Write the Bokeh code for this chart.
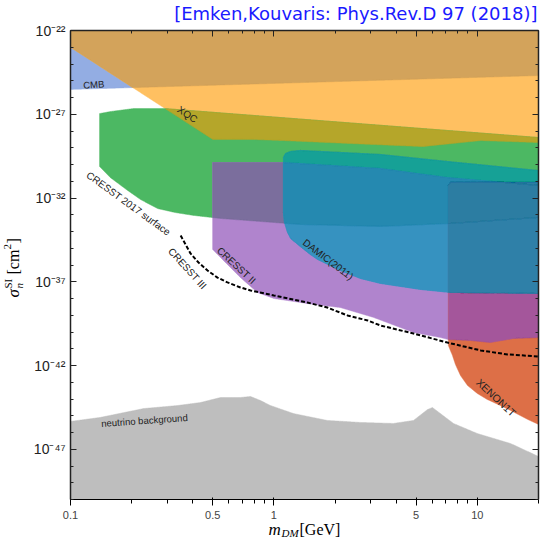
import numpy as np
from bokeh.plotting import figure
from bokeh.models import FixedTicker, CustomJSTickFormatter, LogAxis, Label, Range1d
from bokeh.embed import file_html
from bokeh.resources import INLINE

# ---------------- data: mass in GeV, log10 of cross section in cm^2 ----------------
TOP, BOTTOM = -22.0, -50.0
M_MIN, M_MAX = 0.1, 20.0

cmb_m = [0.1, 20.0]
cmb_lower = [-25.52, -24.69]

xqc_m = [0.1, 0.5, 0.77, 1.11, 2.4, 5.4, 10.4, 20.0]
xqc_lower = [-23.0, -28.5, -28.5, -28.57, -28.75, -28.93, -28.57, -28.69]

surf_m_top = [0.139, 0.157, 0.204, 0.29, 20.0]
surf_top = [-26.96, -26.84, -26.66, -26.66, -28.39]
surf_m_bot = [0.139, 0.157, 0.191, 0.221, 0.268, 0.328, 0.403, 0.546, 0.859, 1.35, 3.34, 7.38, 20.0]
surf_bot = [-30.12, -30.78, -31.55, -32.09, -32.63, -32.87, -33.04, -33.22, -33.40, -33.58, -33.70, -33.52, -33.16]

c2_m_top = [0.5, 1.11, 3.34, 7.13, 20.0]
c2_top = [-29.88, -29.88, -30.24, -30.78, -31.25]
c2_m_bot = [0.5, 0.565, 0.685, 0.83, 1.0, 1.46, 2.12, 3.09, 4.86, 6.59, 7.21, 9.27, 11.6, 15.1, 20.0]
c2_bot = [-35.07, -35.73, -36.75, -37.64, -38.00, -38.30, -38.54, -39.13, -40.03, -40.33, -40.45, -40.51, -40.63, -40.39, -40.33]

damic_m_top = [1.114, 1.14, 1.21, 1.35, 3.34, 7.13, 20.0]
damic_top = [-29.58, -29.34, -29.22, -29.16, -29.40, -29.82, -30.36]
damic_m_bot = [1.114, 1.127, 1.167, 1.21, 1.35, 1.51, 1.64, 2.12, 2.67, 3.34, 5.26, 7.38, 20.0]
damic_bot = [-32.87, -33.46, -34.06, -34.42, -34.90, -35.37, -35.67, -36.33, -36.81, -37.10, -37.46, -37.64, -37.70]

x1t_m_top = [7.21, 7.38, 20.0]
x1t_top = [-31.25, -31.07, -31.07]
x1t_m_bot = [7.21, 7.55, 7.81, 8.27, 8.95, 10.0, 11.2, 13.0, 14.6, 17.7, 20.0]
x1t_bot = [-40.81, -41.40, -41.94, -42.60, -43.19, -43.67, -44.03, -44.39, -44.69, -45.22, -45.52]

nu_m = [0.1, 0.14, 0.229, 0.336, 0.436, 0.546, 0.685, 0.768, 0.859, 0.962, 1.25, 1.83,
        2.67, 3.87, 4.86, 5.69, 6.02, 6.59, 7.64, 10.0, 14.6, 20.0]
nu_top = [-45.34, -45.10, -44.57, -44.39, -44.21, -43.91, -43.91, -43.85, -44.09, -44.39, -44.87, -45.28,
          -45.40, -45.46, -45.28, -44.63, -44.51, -44.87, -45.46, -46.06, -46.66, -47.43]

c3_m = [0.348, 0.368, 0.389, 0.426, 0.472, 0.528, 0.591, 0.685, 0.768, 1.0, 1.46, 1.83,
        2.30, 2.89, 3.34, 4.86, 7.13, 10.4, 14.1, 20.0]
c3_sigma = [-34.24, -34.78, -35.31, -35.85, -36.33, -36.75, -37.04, -37.34, -37.52, -37.82, -38.24, -38.54,
            -39.01, -39.31, -39.61, -40.09, -40.63, -41.10, -41.34, -41.46]

label_text = ["CMB", "XQC", "CRESST 2017 surface", "CRESST III", "CRESST II", "DAMIC(2011)",
              "XENON1T", "neutrino background"]
label_m = [0.130, 0.376, 0.193, 0.376, 0.655, 1.85, 12.4, 0.231]
label_logsig = [-25.22, -27.01, -32.33, -36.21, -36.03, -35.67, -43.91, -45.28]
label_angle_deg = [4, -34, -36, -48, -43, -37, -43, 4]
label_size = ["9.5px", "10px", "10px", "10px", "10px", "10px", "10.5px", "9.5px"]

x_major = [0.1, 0.5, 1, 5, 10]
x_minor = [0.2, 0.3, 0.4, 0.6, 0.7, 0.8, 0.9, 2, 3, 4, 6, 7, 8, 9, 20]
y_major = [1e-22, 1e-27, 1e-32, 1e-37, 1e-42, 1e-47]
y_minor = [10.0 ** (-k) for k in range(22, 51)]

REG = {
    "CMB": (cmb_m, [TOP, TOP], cmb_m, cmb_lower),
    "XQC": ([0.1, 20.0], [TOP, TOP], xqc_m, xqc_lower),
    "surf": (surf_m_top, surf_top, surf_m_bot, surf_bot),
    "c2": (c2_m_top, c2_top, c2_m_bot, c2_bot),
    "damic": (damic_m_top, damic_top, damic_m_bot, damic_bot),
    "x1t": (x1t_m_top, x1t_top, x1t_m_bot, x1t_bot),
    "nu": (nu_m, nu_top, [0.1, 20.0], [BOTTOM, BOTTOM]),
}

PAINT = [
    (("nu",), "#BEBEBE"),
    (("CMB",), "#93ADE3"),
    (("XQC",), "#FFC061"),
    (("surf",), "#4CB863"),
    (("c2",), "#B084CD"),
    (("damic",), "#3692C0"),
    (("x1t",), "#DD6F47"),
    (("CMB", "XQC"), "#D3A35B"),
    (("XQC", "surf"), "#B5A62A"),
    (("surf", "c2"), "#7B6E9D"),
    (("surf", "damic"), "#16A196"),
    (("c2", "damic"), "#3692C0"),
    (("c2", "x1t"), "#A4569B"),
    (("damic", "x1t"), "#2F80A8"),
    (("surf", "x1t"), "#2C7DA2"),
    (("surf", "c2", "damic"), "#2589B0"),
    (("surf", "c2", "x1t"), "#2C7DA2"),
    (("surf", "damic", "x1t"), "#2C7DA2"),
    (("c2", "damic", "x1t"), "#2F80A8"),
    (("surf", "c2", "damic", "x1t"), "#2C7DA2"),
]


def curve(ms, vals, g):
    return np.interp(g, np.log10(ms), vals)


def overlap(keys, n=900):
    lo_x = max(np.log10(max(REG[k][0][0], REG[k][2][0])) for k in keys)
    hi_x = min(np.log10(min(REG[k][0][-1], REG[k][2][-1])) for k in keys)
    xs, ys = [], []
    if hi_x <= lo_x:
        return xs, ys
    g = np.linspace(lo_x, hi_x, n)
    up = np.min([curve(REG[k][0], REG[k][1], g) for k in keys], axis=0)
    lo = np.max([curve(REG[k][2], REG[k][3], g) for k in keys], axis=0)
    idx = np.flatnonzero(up > lo)
    if idx.size == 0:
        return xs, ys
    for run in np.split(idx, np.flatnonzero(np.diff(idx) > 1) + 1):
        if run.size < 2:
            continue
        gx = g[run]
        xs.append(10 ** np.concatenate([gx, gx[::-1]]))
        ys.append(10 ** np.concatenate([up[run], lo[run][::-1]]))
    return xs, ys


# canvas layout: data box spans px 70..538 horizontally and 30..499 vertically
W, H = 540, 539
BOX_L, BOX_R, BOX_T, BOX_B = 70, 538, 30, 499
dx = (BOX_R - BOX_L) / (np.log10(M_MAX) - np.log10(M_MIN))
dy = (BOX_B - BOX_T) / (TOP - BOTTOM)
x_lo = 10 ** (np.log10(M_MIN) - BOX_L / dx)
x_hi = 10 ** (np.log10(M_MAX) + (W - BOX_R) / dx)
y_hi = 10 ** (TOP + BOX_T / dy)
y_lo = 10 ** (BOTTOM - (H - BOX_B) / dy)

p = figure(width=W, height=H, x_axis_type="log", y_axis_type="log",
           x_range=Range1d(x_lo, x_hi), y_range=Range1d(y_lo, y_hi),
           output_backend="svg", toolbar_location=None,
           min_border_left=0, min_border_right=0, min_border_top=0, min_border_bottom=0)
p.xgrid.visible = False
p.ygrid.visible = False
p.outline_line_color = None
p.background_fill_color = "white"
p.border_fill_color = "white"

for keys, col in PAINT:
    xs, ys = overlap(keys)
    if xs:
        p.patches(xs=xs, ys=ys, fill_color=col, line_color=col, line_width=0.5)

p.line(c3_m, 10.0 ** np.array(c3_sigma), line_color="black", line_width=2, line_dash="4 2")

for t, m, s, a, fs in zip(label_text, label_m, label_logsig, label_angle_deg, label_size):
    p.add_layout(Label(x=m, y=10.0 ** s, text=t, angle=np.radians(a), text_align="center",
                       text_baseline="middle", text_font="Liberation Sans", text_font_size=fs,
                       text_color="#222222"))

# axes (fixed on the data box edges)
sup_js = """
const e = Math.round(Math.log10(tick));
const map = {"-":"⁻","0":"⁰","1":"¹","2":"²","3":"³","4":"⁴","5":"⁵","6":"⁶","7":"⁷","8":"⁸","9":"⁹"};
return "10" + String(e).split("").map(c => map[c]).join("");
"""
p.xaxis.ticker = FixedTicker(ticks=x_major, minor_ticks=x_minor)
p.xaxis.formatter = CustomJSTickFormatter(code="return String(tick);")
p.yaxis.ticker = FixedTicker(ticks=y_major, minor_ticks=y_minor)
p.yaxis.formatter = CustomJSTickFormatter(code=sup_js)
p.xaxis.fixed_location = 10.0 ** BOTTOM
p.yaxis.fixed_location = M_MIN
p.xaxis.bounds = (M_MIN, M_MAX)
p.yaxis.bounds = (10.0 ** BOTTOM, 10.0 ** TOP)

top_ax = LogAxis(ticker=FixedTicker(ticks=x_major, minor_ticks=x_minor),
                 formatter=CustomJSTickFormatter(code="return '';"),
                 fixed_location=10.0 ** TOP, bounds=(M_MIN, M_MAX))
right_ax = LogAxis(ticker=FixedTicker(ticks=y_major, minor_ticks=y_minor),
                   formatter=CustomJSTickFormatter(code="return '';"),
                   fixed_location=M_MAX, bounds=(10.0 ** BOTTOM, 10.0 ** TOP))
p.add_layout(top_ax, "above")
p.add_layout(right_ax, "right")

for ax in (p.xaxis[0], p.yaxis[0], top_ax, right_ax):
    ax.major_tick_in = 6
    ax.major_tick_out = 0
    ax.minor_tick_in = 3
    ax.minor_tick_out = 0
    ax.axis_line_width = 1.5
    ax.axis_line_color = "#222222"
    ax.major_tick_line_color = "#222222"
    ax.minor_tick_line_color = "#222222"
    ax.major_label_text_font = "Liberation Sans"
    ax.major_label_text_font_size = "14px"
    ax.major_label_text_color = "#222222"
p.yaxis[0].major_label_standoff = 5
p.xaxis[0].major_label_standoff = 4


# axis titles and header built from text pieces (canvas pixel positions)
def piece(cx, cy, text, size, italic=False, angle=0.0, align="left", baseline="alphabetic",
          font="Liberation Serif", color="black"):
    p.add_layout(Label(x=cx, y=H - cy, x_units="screen", y_units="screen", text=text, angle=angle,
                       text_font=font, text_font_size=size,
                       text_font_style="italic" if italic else "normal",
                       text_align=align, text_baseline=baseline, text_color=color))


R = np.pi / 2
piece(13, 297, "σ", "17px", italic=True, angle=R, baseline="middle")
piece(18, 288, "n", "11px", italic=True, angle=R, baseline="middle")
piece(7, 288, "SI", "11px", angle=R, baseline="middle")
piece(13, 274, "[cm", "16px", angle=R, baseline="middle")
piece(7, 249, "2", "11px", angle=R, baseline="middle")
piece(13, 243, "]", "16px", angle=R, baseline="middle")

piece(268, 529, "m", "17px", italic=True)
piece(281, 532, "DM", "11px", italic=True)
piece(299, 529, "[GeV]", "16px")

piece(537, 13, "[Emken,Kouvaris: Phys.Rev.D 97 (2018)]", "18px", align="right",
      baseline="middle", font="DejaVu Sans", color="#1a1aff")

open("out.html", "w").write(file_html(p, INLINE))
